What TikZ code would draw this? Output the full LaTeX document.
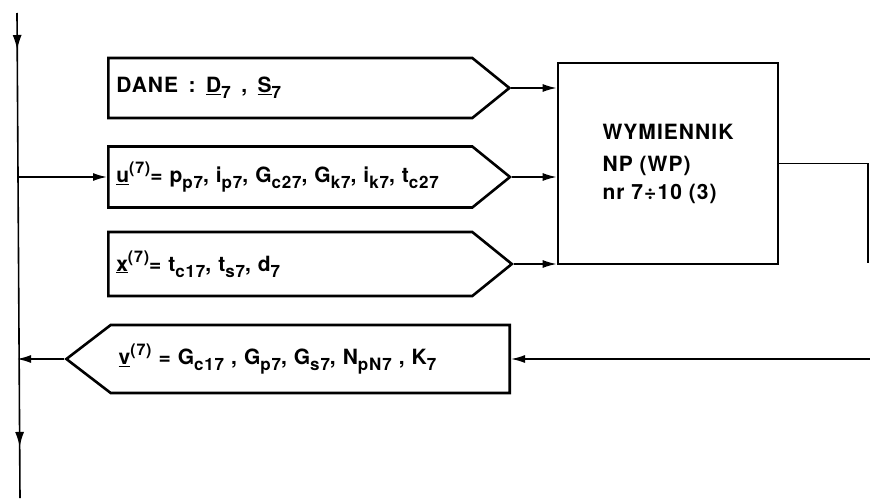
\documentclass[tikz,border=0pt]{standalone}
\usepackage{fontspec}
\setmainfont{TeX Gyre Heros}[LetterSpace=5]
\usetikzlibrary{shapes.symbols, arrows.meta, decorations.markings}

\newcommand\sbs[1]{\raisebox{-0.55ex}{\fontsize{17}{17}\selectfont #1}}
\newcommand\sps[1]{\raisebox{0.8ex}{\fontsize{16}{16}\selectfont #1}}

\begin{document}
\begin{tikzpicture}[
    x=1pt, y=-1pt,
    font=\bfseries\fontsize{21}{25}\selectfont,
    inbox/.style={shape=signal, signal to=east, signal pointer angle=78, draw, line width=2.6pt, text width=348pt, align=left, inner xsep=8pt, anchor=west},
    outbox/.style={shape=signal, signal to=west, signal from=nowhere, signal pointer angle=75, draw, line width=2.6pt, text width=383pt, align=left, inner xsep=8pt, anchor=east},
    mainbox/.style={rectangle, draw, line width=2.6pt, minimum width=220pt, minimum height=201pt, align=left, font=\bfseries\fontsize{21}{26}\selectfont},
    line/.style={line width=1.6pt},
    flow/.style={line width=1.6pt, -{Latex[length=14pt,width=8pt]}},
    trunkarrows/.style={postaction={decorate, decoration={markings,
        mark=at position 37pt with {\arrow{Latex[length=15pt,width=9pt]}},
        mark=at position 434pt with {\arrow{Latex[length=15pt,width=9pt]}}}}}
]
    \useasboundingbox (0,0) rectangle (870,498);

    % Nodes
    \node[inbox, minimum height=60pt] (dane) at (107,88) {DANE \,:\, \underline{D}\sbs{7} \,,\, \underline{S}\sbs{7}};
    \node[inbox, minimum height=61pt] (u) at (107,177) {\underline{u}\sps{(7)}= p\sbs{p7}, i\sbs{p7}, G\sbs{c27}, G\sbs{k7}, i\sbs{k7}, t\sbs{c27}};
    \node[inbox, minimum height=64pt] (x) at (107,264) {\underline{x}\sps{(7)}= t\sbs{c17}, t\sbs{s7}, d\sbs{7}};
    \node[mainbox] (wym) at (668,163.5) {WYMIENNIK\\[6pt]NP (WP)\\[2pt]nr 7÷10 (3)};
    \node[outbox, minimum height=68pt] (v) at (511,359) {\underline{v}\sps{(7)} = G\sbs{c17} , G\sbs{p7}, G\sbs{s7}, N\sbs{pN7} , K\sbs{7}};

    \coordinate (top) at (17,13);
    \coordinate (bot) at (20,498);
    \coordinate (rdrop) at (868,263);
    \coordinate (rin) at (870,359);

    % Arrows
    \draw[line, trunkarrows] (top) -- (bot);
    \draw[flow] (u.west -| top) -- (u.west);
    \draw[flow] (dane.east) -- (dane.east -| wym.west);
    \draw[flow] (u.east) -- (u.east -| wym.west);
    \draw[flow] (x.east) -- (x.east -| wym.west);
    \draw[line] (wym.east) -| (rdrop);
    \draw[flow] (rin) -- (v.east);
    \draw[flow] (v.west) -- (v.west -| top);
\end{tikzpicture}
\end{document}
